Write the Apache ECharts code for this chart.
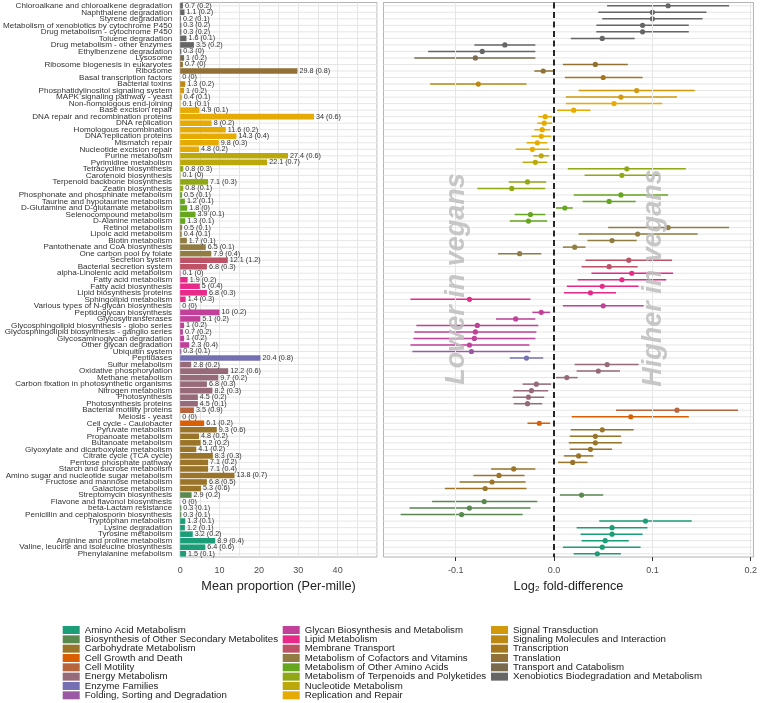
<!DOCTYPE html>
<html><head><meta charset="utf-8">
<script src="https://cdn.jsdelivr.net/npm/echarts@6/dist/echarts.min.js"></script>
<style>html,body{margin:0;padding:0;background:#fff}#c{width:760px;height:703px}</style>
</head><body><div id="c"></div>
<script>
const groupNames = [
  "Amino Acid Metabolism","Biosynthesis of Other Secondary Metabolites","Carbohydrate Metabolism",
  "Cell Growth and Death","Cell Motility","Energy Metabolism","Enzyme Families",
  "Folding, Sorting and Degradation","Glycan Biosynthesis and Metabolism","Lipid Metabolism",
  "Membrane Transport","Metabolism of Cofactors and Vitamins","Metabolism of Other Amino Acids",
  "Metabolism of Terpenoids and Polyketides","Nucleotide Metabolism","Replication and Repair",
  "Signal Transduction","Signaling Molecules and Interaction","Transcription","Translation",
  "Transport and Catabolism","Xenobiotics Biodegradation and Metabolism"
];
const groupColors = [
  "#1B9E77","#5A8950","#9A7429","#D95F02","#B8653D","#966A78","#7570B3","#9B58A5",
  "#C14198","#E7298A","#BC5366","#917C42","#66A61E","#91A815","#BBA90B","#E6AB02",
  "#D1990B","#BB8814","#A6761D","#917135","#7B6B4E","#666666"
];
const categories = [
  "Chloroalkane and chloroalkene degradation","Naphthalene degradation","Styrene degradation",
  "Metabolism of xenobiotics by cytochrome P450","Drug metabolism - cytochrome P450","Toluene degradation",
  "Drug metabolism - other enzymes","Ethylbenzene degradation","Lysosome","Ribosome biogenesis in eukaryotes",
  "Ribosome","Basal transcription factors","Bacterial toxins","Phosphatidylinositol signaling system",
  "MAPK signaling pathway - yeast","Non-homologous end-joining","Base excision repair",
  "DNA repair and recombination proteins","DNA replication","Homologous recombination",
  "DNA replication proteins","Mismatch repair","Nucleotide excision repair","Purine metabolism",
  "Pyrimidine metabolism","Tetracycline biosynthesis","Carotenoid biosynthesis",
  "Terpenoid backbone biosynthesis","Zeatin biosynthesis","Phosphonate and phosphinate metabolism",
  "Taurine and hypotaurine metabolism","D-Glutamine and D-glutamate metabolism","Selenocompound metabolism",
  "D-Alanine metabolism","Retinol metabolism","Lipoic acid metabolism","Biotin metabolism",
  "Pantothenate and CoA biosynthesis","One carbon pool by folate","Secretion system",
  "Bacterial secretion system","alpha-Linolenic acid metabolism","Fatty acid metabolism",
  "Fatty acid biosynthesis","Lipid biosynthesis proteins","Sphingolipid metabolism",
  "Various types of N-glycan biosynthesis","Peptidoglycan biosynthesis","Glycosyltransferases",
  "Glycosphingolipid biosynthesis - globo series","Glycosphingolipid biosynthesis - ganglio series",
  "Glycosaminoglycan degradation","Other glycan degradation","Ubiquitin system","Peptidases",
  "Sulfur metabolism","Oxidative phosphorylation","Methane metabolism",
  "Carbon fixation in photosynthetic organisms","Nitrogen metabolism","Photosynthesis",
  "Photosynthesis proteins","Bacterial motility proteins","Meiosis - yeast","Cell cycle - Caulobacter",
  "Pyruvate metabolism","Propanoate metabolism","Butanoate metabolism",
  "Glyoxylate and dicarboxylate metabolism","Citrate cycle (TCA cycle)","Pentose phosphate pathway",
  "Starch and sucrose metabolism","Amino sugar and nucleotide sugar metabolism",
  "Fructose and mannose metabolism","Galactose metabolism","Streptomycin biosynthesis",
  "Flavone and flavonol biosynthesis","beta-Lactam resistance","Penicillin and cephalosporin biosynthesis",
  "Tryptophan metabolism","Lysine degradation","Tyrosine metabolism","Arginine and proline metabolism",
  "Valine, leucine and isoleucine biosynthesis","Phenylalanine metabolism"
];
const rowGroup = [
  21,21,21,21,21,21,21,21, 20, 19,19, 18, 17, 16,16,
  15,15,15,15,15,15,15,15, 14,14, 13,13,13,13, 12,12,12,12,12,
  11,11,11,11,11, 10,10, 9,9,9,9,9, 8,8,8,8,8,8,8, 7, 6,
  5,5,5,5,5,5,5, 4, 3,3, 2,2,2,2,2,2,2,2,2,2, 1,1,1,1, 0,0,0,0,0,0
];
const meanProp = [
  0.7,1.1,0.2,0.3,0.3,1.6,3.5,0.3, 1, 0.7,29.8, 0, 1.3, 1,0.4,
  0.1,4.9,34,8,11.6,14.3,9.8,4.8, 27.4,22.1, 0.8,0.1,7.1,0.8,
  0.5,1.2,1.8,3.9,1.3, 0.5,0.4,1.7,6.5,7.9, 12.1,6.8,
  0.1,1.9,5,6.8,1.4, 0,10,5.1,1,0.7,1,2.3, 0.3, 20.4,
  2.8,12.2,9.7,6.8,8.2,4.5,4.5, 3.5, 0,6.1,
  9.3,4.8,5.2,4.1,8.3,7.1,7.1,13.8,6.8,5.3, 2.9,0,0.3,0.3,
  1.3,1.2,3.2,8.9,6.4,1.5
];
const meanSE = [
  0.2,0.2,0.1,0.2,0.2,0.1,0.2,0, 0.2, 0,0.8, 0, 0.2, 0.2,0.1,
  0.1,0.1,0.6,0.2,0.2,0.4,0.3,0.2, 0.6,0.7, 0.3,0,0.3,0.1,
  0.1,0.1,0,0.1,0.1, 0.1,0.1,0.1,0.1,0.4, 1.2,0.3,
  0,0.2,0.4,0.3,0.3, 0,0.2,0.2,0.2,0.2,0.2,0.4, 0.1, 0.8,
  0.2,0.6,0.2,0.3,0.3,0.2,0.1, 0.9, 0,0.2,
  0.6,0.2,0.2,0.2,0.3,0.2,0.4,0.7,0.5,0.6, 0.2,0,0.1,0.1,
  0.1,0.1,0.2,0.4,0.6,0.1
];
const logFD = [
  0.116,0.100,0.100,0.090,0.090,0.049,-0.050,-0.073,-0.080,0.042,
  -0.011,0.050,-0.077,0.084,0.068,0.061,0.020,-0.009,-0.010,-0.012,
  -0.013,-0.017,-0.022,-0.013,-0.019,0.074,0.069,-0.027,-0.043,0.068,
  0.056,0.011,-0.024,-0.026,0.116,0.085,0.059,0.021,-0.035,0.076,
  0.056,0.079,0.069,0.049,0.037,-0.086,0.050,-0.013,-0.039,-0.078,
  -0.080,-0.081,-0.086,-0.084,-0.028,0.054,0.045,0.013,-0.018,-0.023,
  -0.026,-0.027,0.125,0.078,-0.015,0.049,0.042,0.042,0.037,0.025,
  0.019,-0.041,-0.056,-0.063,-0.070,0.028,-0.071,-0.086,-0.094,0.093,
  0.059,0.059,0.052,0.049,0.044
];
const ciLow = [
  0.054,0.045,0.049,0.043,0.043,0.017,-0.081,-0.128,-0.142,0.009,
  -0.020,0.011,-0.126,0.025,0.012,0.012,0.003,-0.016,-0.017,-0.020,
  -0.023,-0.028,-0.039,-0.021,-0.032,0.014,0.031,-0.046,-0.078,0.020,
  0.029,0.002,-0.040,-0.045,0.055,0.025,0.034,0.009,-0.057,0.032,
  0.028,0.038,0.024,0.013,0.010,-0.146,0.009,-0.022,-0.059,-0.140,
  -0.142,-0.143,-0.146,-0.144,-0.045,0.021,0.023,0.002,-0.032,-0.041,
  -0.042,-0.041,0.063,0.018,-0.027,0.017,0.016,0.015,0.016,0.010,
  0.004,-0.064,-0.082,-0.096,-0.111,0.006,-0.124,-0.147,-0.156,0.046,
  0.023,0.027,0.028,0.009,0.020
];
const ciHigh = [
  0.178,0.155,0.151,0.137,0.137,0.082,-0.019,-0.019,-0.019,0.075,
  -0.001,0.090,-0.028,0.143,0.125,0.110,0.037,-0.002,-0.002,-0.004,
  -0.003,-0.007,-0.005,-0.005,-0.007,0.134,0.107,-0.008,-0.009,0.116,
  0.083,0.019,-0.009,-0.007,0.178,0.146,0.084,0.032,-0.013,0.120,
  0.085,0.121,0.114,0.086,0.063,-0.024,0.091,-0.004,-0.019,-0.016,
  -0.018,-0.019,-0.025,-0.024,-0.011,0.086,0.067,0.024,-0.003,-0.006,
  -0.010,-0.012,0.187,0.137,-0.004,0.081,0.068,0.069,0.059,0.040,
  0.034,-0.019,-0.030,-0.029,-0.028,0.050,-0.017,-0.024,-0.032,0.140,
  0.095,0.090,0.076,0.088,0.068
];
const leftTicks = [0, 10, 20, 30, 40];
const rightTicks = [-0.1, 0, 0.1, 0.2];
const leftRange = [0, 50];
const rightRange = [-0.1734, 0.2028];

const FONT = '"Liberation Sans", Arial, Helvetica, sans-serif';
const chart = echarts.init(document.getElementById('c'), null, {renderer: 'canvas'});

function rowLineSeries(ax, range) {
  return {
    type: 'custom', xAxisIndex: ax, yAxisIndex: ax, silent: true, z: 1,
    data: categories.map((c, i) => [range[0], i, range[1]]),
    encode: {x: [0, 2], y: 1},
    renderItem: (params, api) => {
      const a = api.coord([api.value(0), api.value(1)]);
      const b = api.coord([api.value(2), api.value(1)]);
      return {type: 'line', shape: {x1: a[0], y1: a[1], x2: b[0], y2: b[1]},
        style: {stroke: '#E6E6E6', lineWidth: 1}};
    }
  };
}

const gridLineStyle = {color: '#E6E6E6', width: 1, type: 'solid'};

// one legend component per entry, laid out in three columns of eight rows
const legendCols = [62.7, 282.7, 491];
const legendTop = 626, legendStep = 9.33;
const legends = groupNames.map((n, k) => ({
  orient: 'vertical', left: legendCols[Math.floor(k / 8)], top: legendTop + (k % 8) * legendStep - 1,
  padding: 0, itemWidth: 17, itemHeight: 8, selectedMode: false,
  data: [{name: n, icon: 'rect'}],
  itemStyle: {opacity: 1},
  textStyle: {fontSize: 9.7, color: '#222', fontFamily: FONT}
}));

const option = {
  animation: false,
  textStyle: {fontFamily: FONT},
  grid: [
    {left: 179.5, top: 2.5, width: 197.5, height: 554.5, show: true, borderColor: '#B3B3B3', borderWidth: 1, backgroundColor: '#fff'},
    {left: 383.5, top: 2.5, width: 370.5, height: 554.5, show: true, borderColor: '#B3B3B3', borderWidth: 1, backgroundColor: '#fff'}
  ],
  xAxis: [
    {gridIndex: 0, type: 'value', min: leftRange[0], max: leftRange[1], interval: 5,
     axisLine: {show: false}, axisTick: {show: false},
     splitLine: {show: true, lineStyle: gridLineStyle},
     axisLabel: {fontSize: 9, color: '#4D4D4D', margin: 9,
       formatter: v => leftTicks.includes(v) ? String(v) : ''},
     name: 'Mean proportion (Per-mille)', nameLocation: 'middle', nameGap: 22,
     nameTextStyle: {fontSize: 12.7, color: '#222'}},
    {gridIndex: 1, type: 'value', min: rightRange[0], max: rightRange[1],
     axisLine: {show: false},
     axisTick: {show: true, customValues: rightTicks, length: 4, lineStyle: {color: '#333', width: 1}},
     splitLine: {show: false},
     axisLabel: {customValues: rightTicks, fontSize: 9, color: '#4D4D4D', margin: 9,
       formatter: v => Number(v).toFixed(1)},
     name: 'Log\u2082 fold-difference', nameLocation: 'middle', nameGap: 22,
     nameTextStyle: {fontSize: 12.7, color: '#222'}}
  ],
  yAxis: [
    {gridIndex: 0, type: 'category', data: categories, inverse: true,
     axisLine: {show: false}, axisTick: {show: false}, splitLine: {show: false},
     axisLabel: {fontSize: 8.1, color: '#333', margin: 8, interval: 0}},
    {gridIndex: 1, type: 'category', data: categories, inverse: true,
     axisLine: {show: false}, axisTick: {show: false}, splitLine: {show: false},
     axisLabel: {show: false}}
  ],
  legend: legends,
  graphic: [
    {type: 'text', x: 457, y: 279, rotation: Math.PI / 2, z: 100, silent: true,
     style: {text: 'Lower in vegans', font: 'italic bold 27px ' + FONT, fill: '#BDBDBD', opacity: 0.85,
       align: 'center', verticalAlign: 'middle'}},
    {type: 'text', x: 654, y: 278, rotation: Math.PI / 2, z: 100, silent: true,
     style: {text: 'Higher in vegans', font: 'italic bold 27px ' + FONT, fill: '#BDBDBD', opacity: 0.85,
       align: 'center', verticalAlign: 'middle'}}
  ],
  series: [
    rowLineSeries(0, leftRange),
    {
      type: 'bar', xAxisIndex: 0, yAxisIndex: 0, z: 3, barWidth: 5.6,
      data: meanProp.map((v, i) => ({value: v, itemStyle: {color: groupColors[rowGroup[i]]}})),
      label: {show: true, position: 'right', distance: 2, fontSize: 7.2, color: '#333',
        formatter: p => meanProp[p.dataIndex] + ' (' + meanSE[p.dataIndex] + ')'}
    },
    Object.assign(rowLineSeries(1, rightRange), {
      markLine: {silent: true, symbol: ['none', 'none'], label: {show: false}, animation: false,
        data: [
          {xAxis: -0.1, lineStyle: gridLineStyle},
          {xAxis: 0.1, lineStyle: gridLineStyle},
          {xAxis: 0.2, lineStyle: gridLineStyle},
          {xAxis: 0, lineStyle: {color: '#000', width: 1.7, type: [6, 3.5]}}
        ]}
    }),
    {
      type: 'custom', xAxisIndex: 1, yAxisIndex: 1, z: 3, silent: true,
      data: ciLow.map((lo, i) => [lo, i, ciHigh[i]]),
      encode: {x: [0, 2], y: 1},
      renderItem: (params, api) => {
        const i = api.value(1);
        const a = api.coord([api.value(0), i]);
        const b = api.coord([api.value(2), i]);
        return {type: 'line', shape: {x1: a[0], y1: a[1], x2: b[0], y2: b[1]},
          style: {stroke: groupColors[rowGroup[params.dataIndex]], lineWidth: 1.5}};
      }
    },
    {
      type: 'scatter', xAxisIndex: 1, yAxisIndex: 1, z: 4, symbolSize: 5.2,
      itemStyle: {opacity: 1},
      data: logFD.map((v, i) => ({value: [v, i], itemStyle: {color: groupColors[rowGroup[i]], opacity: 1}}))
    }
  ].concat(groupNames.map((n, k) => ({
    type: 'scatter', name: n, xAxisIndex: 1, yAxisIndex: 1, data: [],
    itemStyle: {color: groupColors[k], opacity: 1}
  })))
};
chart.setOption(option);
</script>
</body></html>
